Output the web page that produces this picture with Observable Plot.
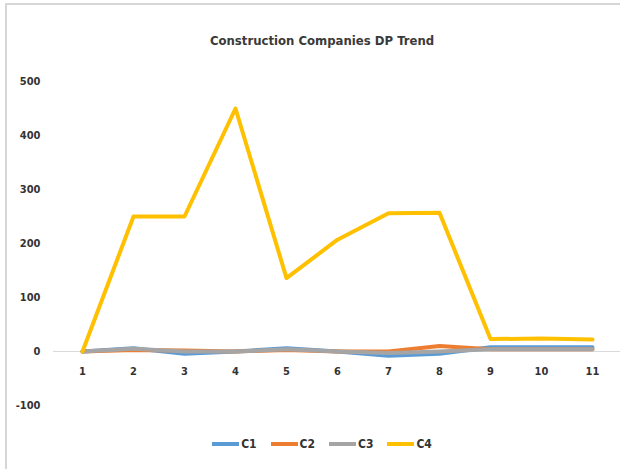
<!DOCTYPE html>
<html>
<head>
<meta charset="utf-8">
<script src="https://cdn.jsdelivr.net/npm/d3@7"></script>
<script src="https://cdn.jsdelivr.net/npm/@observablehq/plot@0.6"></script>
<style>
  html, body { margin: 0; padding: 0; background: #fff; }
  #chart { position: relative; width: 620px; height: 469px; overflow: hidden;
           font-family: "DejaVu Sans Condensed", "DejaVu Sans", sans-serif; }
  .frame { position: absolute; left: 5px; top: 3px; width: 700px; height: 600px;
           border-top: 2px solid #d6d6d6; border-left: 2px solid #d6d6d6; }
  .title { position: absolute; top: 33px; left: 0; width: 644px; text-align: center;
           font-size: 13px; font-weight: bold; color: #3a3a3a; }
  #plot { position: absolute; top: 60px; left: 0; }
  .legend { position: absolute; top: 437px; left: 0; width: 644px; display: flex;
            justify-content: center; align-items: center; font-size: 12px; font-weight: bold; color: #333; }
  .legend .item { display: flex; align-items: center; margin: 0 7px; }
  .legend .swatch { width: 27px; height: 4px; margin-right: 2px; }
</style>
</head>
<body>
<div id="chart">
  <div class="frame"></div>
  <div class="title">Construction Companies DP Trend</div>
  <div id="plot"></div>
  <div class="legend" id="legend"></div>
</div>
<script>
// Periods along the category axis
const periods = [1, 2, 3, 4, 5, 6, 7, 8, 9, 10, 11];
const yTicks = [-100, 0, 100, 200, 300, 400, 500];

// DP values per company
const C1 = [0, 6, -4, 0, 6, 0, -8, -4, 8, 8, 8];
const C2 = [0, 3, 2, 0, 3, 0, 0, 10, 4, 4, 4];
const C3 = [0, 5, 0, 0, 4, 0, -3, 0, 4, 4, 4];
const C4 = [0, 250, 250, 450, 136, 207, 256, 257, 23, 24, 22];

const seriesNames = ["C1", "C2", "C3", "C4"];
const seriesColors = ["#5B9BD5", "#ED7D31", "#A5A5A5", "#FFC000"];

const seriesValues = [C1, C2, C3, C4];
const rows = seriesNames.flatMap((name, i) =>
  periods.map((p, j) => ({ company: name, period: p, value: seriesValues[i][j] }))
);

const chart = Plot.plot({
  width: 620,
  height: 365,
  marginLeft: 53,
  marginRight: 0,
  marginTop: 21,
  marginBottom: 20,
  style: { fontFamily: "'DejaVu Sans Condensed', 'DejaVu Sans', sans-serif", fontSize: "11px", color: "#333" },
  x: { type: "point", domain: periods, padding: 0.5, axis: null },
  y: { domain: [-100, 500], axis: null },
  color: { domain: seriesNames, range: seriesColors },
  marks: [
    Plot.ruleY([0], { stroke: "#d9d9d9", strokeWidth: 1 }),
    Plot.axisY({ ticks: yTicks, tickSize: 0, tickPadding: 13, tickFormat: d => d, label: null, fontWeight: "bold" }),
    Plot.text(periods, { x: d => d, y: 0, dy: 20, text: d => String(d), fontWeight: "bold", fill: "#333" }),
    Plot.line(rows, { x: "period", y: "value", z: "company", stroke: "company", strokeWidth: 4, strokeLinejoin: "round" })
  ]
});
document.getElementById("plot").appendChild(chart);

const legend = document.getElementById("legend");
seriesNames.forEach((name, i) => {
  const item = document.createElement("div");
  item.className = "item";
  const sw = document.createElement("span");
  sw.className = "swatch";
  sw.style.background = seriesColors[i];
  const label = document.createElement("span");
  label.textContent = name;
  item.appendChild(sw);
  item.appendChild(label);
  legend.appendChild(item);
});
</script>
</body>
</html>
